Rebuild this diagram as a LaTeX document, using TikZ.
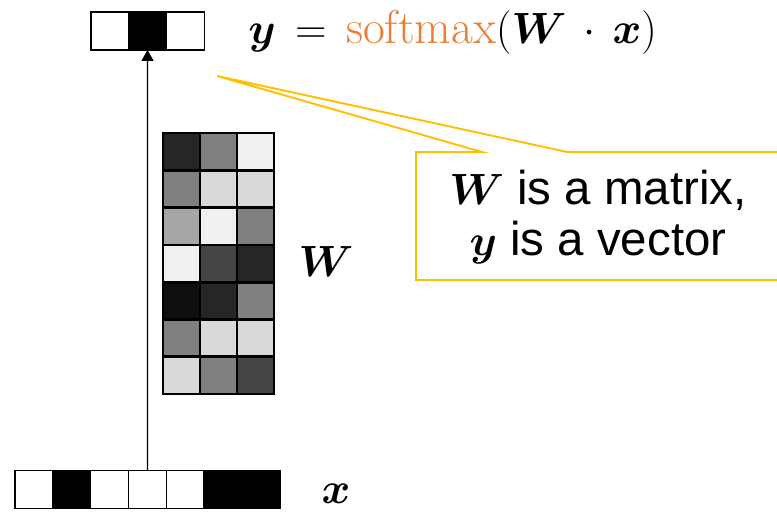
\documentclass[tikz,border=0pt]{standalone}
\usepackage{amsmath}
\usepackage{bm}
\usepackage{fontspec}
\usepackage{xcolor}
\usepackage{tikz}
\usetikzlibrary{arrows.meta, positioning}
\newfontfamily\calloutfont{Liberation Sans}
\definecolor{calloutyellow}{RGB}{255, 192, 0}
\definecolor{softorange}{RGB}{237, 125, 49}

\begin{document}
\begin{tikzpicture}[
  cell/.style={rectangle, draw=black, line width=0.9pt, minimum size=0.757cm,
               inner sep=0pt, outer sep=0pt},
  wcell/.style={cell, line width=1.5pt, minimum width=0.74cm, minimum height=0.746cm},
  arrow/.style={-{Triangle[length=0.22cm, width=0.24cm]}, line width=0.6pt, color=black},
  callout/.style={draw=calloutyellow, line width=1.1pt, fill=white},
  label/.style={font=\fontsize{24}{28}\selectfont},
  formula/.style={font=\fontsize{27}{31}\selectfont, inner sep=0pt},
  note/.style={font=\calloutfont\fontsize{27}{29}\selectfont, align=center}
]
  \useasboundingbox (0,0) rectangle (15.54,10.26);

  % input vector x
  \foreach \v [count=\i] in {0,100,0,0,0,100,100}
    \node[cell, fill=black!\v] (x\i) at ({0.30+0.757*(\i-0.5)}, 0.47) {};

  % output vector y
  \foreach \v [count=\i] in {0,100,0}
    \node[cell, fill=black!\v] (y\i) at ({1.815+0.757*(\i-0.5)}, 9.64) {};

  % weight matrix W
  \foreach \row [count=\i] in {{85,50,6},{50,15,15},{35,6,50},{6,73,85},
                               {94,85,50},{50,15,15},{15,50,73}}
    \foreach \v [count=\j] in \row
      \node[wcell, fill=black!\v] (w-\i-\j) at ({3.26+0.74*(\j-0.5)}, {7.60-0.746*(\i-0.5)}) {};

  \draw[arrow] (x4.north) -- (y2.south);

  \node[formula, anchor=west] (eq) at (4.96,9.62)
    {$\bm{y} \,=\, \textcolor{softorange}{\mathrm{softmax}}(\bm{W}\,\cdot\,\bm{x})$};
  \node[label] (wlabel) at (6.52,5.02) {$\bm{W}$};
  \node[label] (xlabel) at (6.72,0.38) {$\bm{x}$};

  % callout
  \coordinate (tip) at (4.34,8.74);
  \draw[callout] (8.32,7.22) -- (9.64,7.22) -- (tip) -- (11.34,7.22) -- (16,7.22)
    -- (16,4.66) -- (8.32,4.66) -- cycle;
  \node[note] (remark) at (11.96,5.92) {$\bm{W}$ is a matrix,\\$\bm{y}$ is a vector};
\end{tikzpicture}
\end{document}
